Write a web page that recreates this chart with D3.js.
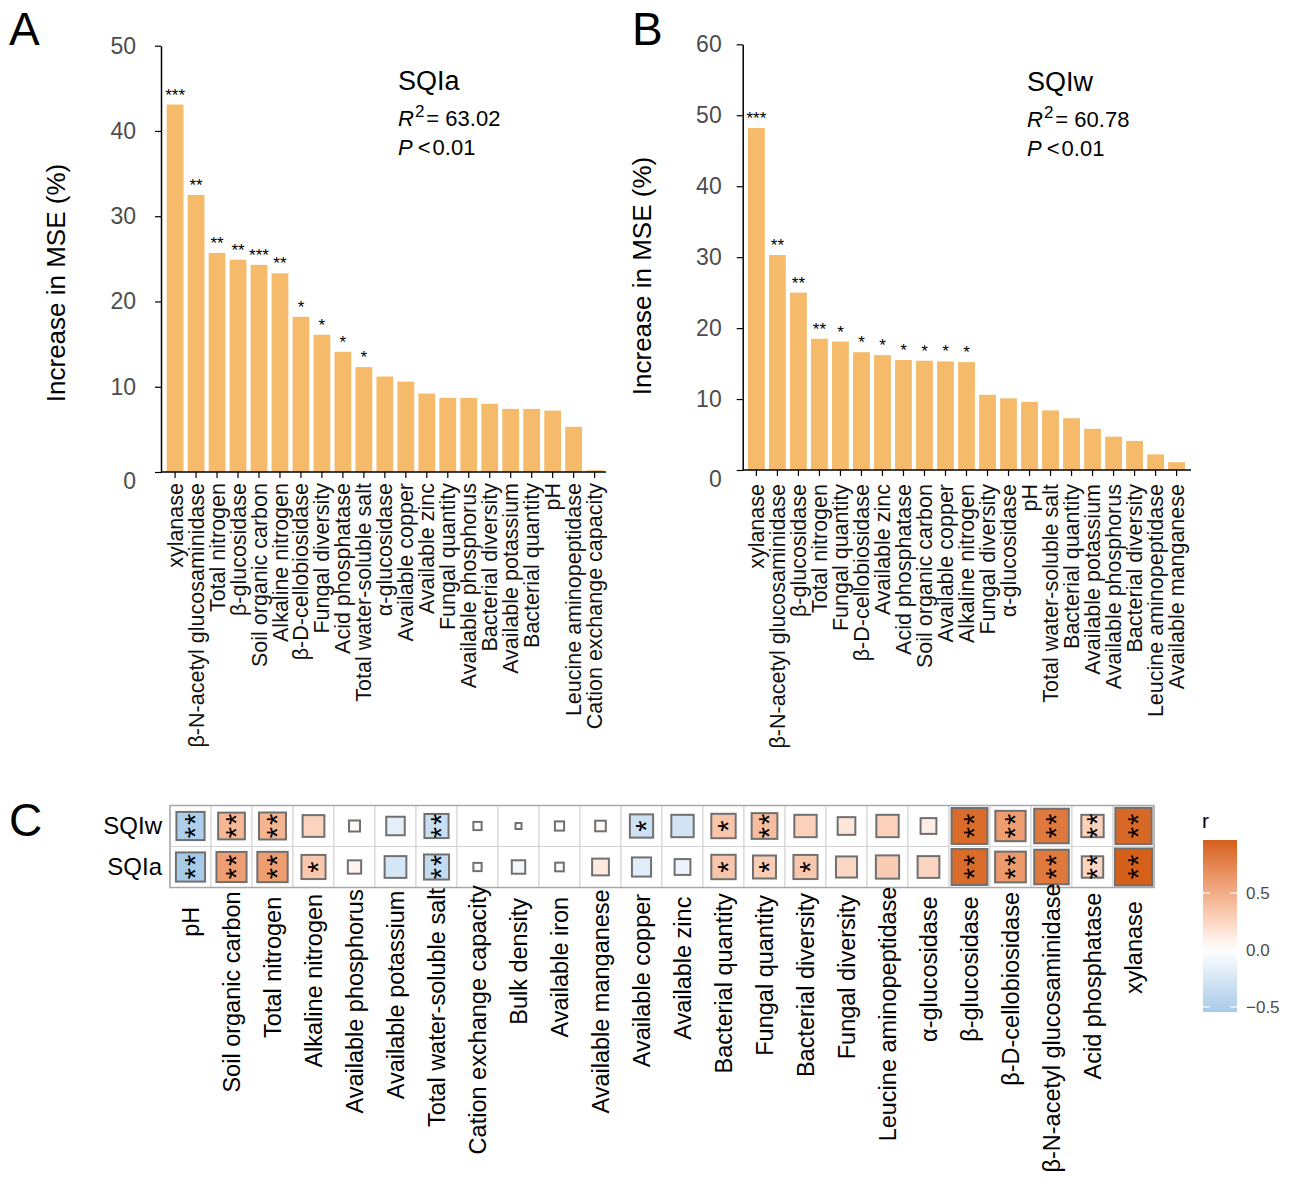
<!DOCTYPE html>
<html>
<head>
<meta charset="utf-8">
<script src="https://cdn.jsdelivr.net/npm/d3@7"></script>
<style>
  body { margin: 0; background: #fff; }
  svg { font-family: "Liberation Sans", Arial, sans-serif; }
</style>
</head>
<body>
<svg id="chart" width="1291" height="1188"></svg>
<script>
// Panel A: SQIa random forest importance
const catsA = ["xylanase", "β-N-acetyl glucosaminidase", "Total nitrogen", "β-glucosidase",
  "Soil organic carbon", "Alkaline nitrogen", "β-D-cellobiosidase", "Fungal diversity",
  "Acid phosphatase", "Total water-soluble salt", "α-glucosidase", "Available copper",
  "Available zinc", "Fungal quantity", "Available phosphorus", "Bacterial diversity",
  "Available potassium", "Bacterial quantity", "pH", "Leucine aminopeptidase",
  "Cation exchange capacity"];
const valuesA = [43.1, 32.5, 25.7, 24.9, 24.3, 23.3, 18.2, 16.1, 14.1, 12.3, 11.2, 10.6,
  9.2, 8.7, 8.7, 8.0, 7.4, 7.4, 7.2, 5.3, 0.2];
const sigA = ["***", "**", "**", "**", "***", "**", "*", "*", "*", "*", "", "", "", "", "", "", "", "", "", "", ""];

// Panel B: SQIw random forest importance
const catsB = ["xylanase", "β-N-acetyl glucosaminidase", "β-glucosidase", "Total nitrogen",
  "Fungal quantity", "β-D-cellobiosidase", "Available zinc", "Acid phosphatase",
  "Soil organic carbon", "Available copper", "Alkaline nitrogen", "Fungal diversity",
  "α-glucosidase", "pH", "Total water-soluble salt", "Bacterial quantity",
  "Available potassium", "Available phosphorus", "Bacterial diversity",
  "Leucine aminopeptidase", "Available manganese"];
const valuesB = [48.2, 30.3, 25.0, 18.5, 18.1, 16.6, 16.2, 15.5, 15.4, 15.3, 15.2, 10.6,
  10.1, 9.6, 8.4, 7.3, 5.8, 4.7, 4.1, 2.2, 1.1];
const sigB = ["***", "**", "**", "**", "*", "*", "*", "*", "*", "*", "*", "", "", "", "", "", "", "", "", "", ""];

// Panel C: correlation r with the two indices
const columns = ["pH", "Soil organic carbon", "Total nitrogen", "Alkaline nitrogen",
  "Available phosphorus", "Available potassium", "Total water-soluble salt",
  "Cation exchange capacity", "Bulk density", "Available iron", "Available manganese",
  "Available copper", "Available zinc", "Bacterial quantity", "Fungal quantity",
  "Bacterial diversity", "Fungal diversity", "Leucine aminopeptidase", "α-glucosidase",
  "β-glucosidase", "β-D-cellobiosidase", "β-N-acetyl glucosaminidase", "Acid phosphatase",
  "xylanase"];
const rows = ["SQIw", "SQIa"];
const rSQIw = [-0.50, 0.44, 0.45, 0.26, 0.04, -0.17, -0.34, 0.02, 0.015, 0.025, 0.036, -0.31,
  -0.28, 0.35, 0.40, 0.28, 0.15, 0.28, 0.11, 0.90, 0.60, 0.82, 0.28, 0.92];
const rSQIa = [-0.544, 0.59, 0.60, 0.34, 0.068, -0.26, -0.375, 0.02, -0.07, 0.022, 0.13, -0.186,
  -0.11, 0.35, 0.30, 0.34, 0.24, 0.31, 0.26, 0.90, 0.62, 0.82, 0.25, 0.965];
const sigSQIw = ["**", "**", "**", "", "", "", "**", "", "", "", "", "*", "", "*", "**", "", "", "", "", "**", "**", "**", "**", "**"];
const sigSQIa = ["**", "**", "**", "*", "", "", "**", "", "", "", "", "", "", "*", "*", "*", "", "", "", "**", "**", "**", "**", "**"];
const legendTicks = [-0.5, 0.0, 0.5];

const svg = d3.select("#chart");
const barColor = "#f5bb6b";

function drawBars(cfg) {
    const y = d3.scaleLinear().domain([0, cfg.yMax]).range([cfg.y0, cfg.yTop]);
    const x = d3.scaleBand().domain(cfg.cats).range([cfg.xl, cfg.xr])
        .paddingInner(0.2).paddingOuter(0);
    const g = svg.append("g");

    g.selectAll("rect.bar")
        .data(cfg.values)
        .join("rect")
        .attr("class", "bar")
        .attr("x", (d, i) => x(cfg.cats[i]))
        .attr("width", x.bandwidth())
        .attr("y", d => y(d))
        .attr("height", d => y(0) - y(d))
        .attr("fill", barColor);

    g.selectAll("text.sig")
        .data(cfg.values)
        .join("text")
        .attr("class", "sig")
        .attr("x", (d, i) => x(cfg.cats[i]) + x.bandwidth() / 2)
        .attr("y", d => y(d) - 4)
        .attr("text-anchor", "middle")
        .attr("font-size", 17)
        .text((d, i) => cfg.sig[i]);

    // y axis
    const yAxis = g.append("g")
        .attr("transform", `translate(${cfg.axisX},0)`)
        .call(d3.axisLeft(y).ticks(cfg.yMax / 10).tickSize(6).tickSizeOuter(0).tickPadding(cfg.tickPad));
    yAxis.select(".domain").attr("stroke", "#000").attr("stroke-width", 1.5);
    yAxis.selectAll(".tick line").attr("stroke", "#000").attr("stroke-width", 1.2);
    yAxis.selectAll(".tick text").attr("font-size", 23).attr("fill", "#4d4d4d")
        .attr("font-family", null)
        .attr("dy", d => d === 0 ? "0.7em" : "0.32em");

    // x axis
    const xAxis = g.append("g")
        .attr("transform", `translate(0,${cfg.y0})`)
        .call(d3.axisBottom(x).tickSize(6).tickSizeOuter(0));
    xAxis.select(".domain").remove();
    xAxis.append("line")
        .attr("x1", cfg.axisX).attr("x2", cfg.xEnd)
        .attr("stroke", "#000").attr("stroke-width", 1.5);
    xAxis.selectAll(".tick line").attr("stroke", "#000").attr("stroke-width", 1.2);
    xAxis.selectAll(".tick text")
        .attr("transform", "rotate(-90)")
        .attr("text-anchor", "end")
        .attr("x", -cfg.labelGap)
        .attr("y", 0)
        .attr("dy", "0.35em")
        .attr("font-size", 21.5)
        .attr("font-family", null)
        .attr("fill", "#111");

    // y title
    svg.append("text")
        .attr("transform", `translate(${cfg.titleX},${cfg.titleY}) rotate(-90)`)
        .attr("text-anchor", "middle")
        .attr("dy", "0.35em")
        .attr("font-size", 26)
        .text("Increase in MSE (%)");

    // annotation
    svg.append("text").attr("x", cfg.annX).attr("y", cfg.annY)
        .attr("font-size", 27).text(cfg.name);
    const r2 = svg.append("text").attr("x", cfg.annX).attr("y", cfg.annY + 36).attr("font-size", 22);
    r2.append("tspan").attr("font-style", "italic").text("R");
    r2.append("tspan").attr("font-size", 17).attr("dy", -9).attr("dx", 1).text("2");
    r2.append("tspan").attr("dy", 9).attr("dx", 2).text("= " + cfg.r2);
    const p = svg.append("text").attr("x", cfg.annX).attr("y", cfg.annY + 65).attr("font-size", 22);
    p.append("tspan").attr("font-style", "italic").text("P");
    p.append("tspan").attr("dx", 5).text("<");
    p.append("tspan").attr("dx", 2).text("0.01");

    // panel letter
    svg.append("text").attr("x", cfg.letterX).attr("y", 45)
        .attr("font-size", 46).text(cfg.letter);
}

drawBars({
    cats: catsA, values: valuesA, sig: sigA, yMax: 50,
    y0: 472, yTop: 45.7, xl: 166.7, xr: 603, axisX: 161, xEnd: 606,
    tickPad: 19, labelGap: 11, titleX: 56, titleY: 283,
    name: "SQIa", r2: "63.02", annX: 398, annY: 90, letter: "A", letterX: 9
});

drawBars({
    cats: catsB, values: valuesB, sig: sigB, yMax: 60,
    y0: 470, yTop: 44.3, xl: 748, xr: 1185, axisX: 742.7, xEnd: 1191,
    tickPad: 15, labelGap: 14, titleX: 642, titleY: 276,
    name: "SQIw", r2: "60.78", annX: 1027, annY: 91, letter: "B", letterX: 632
});

// ---------- Panel C: correlation heatmap ----------
const cells = [];
rows.forEach(row => {
    const rv = row === "SQIw" ? rSQIw : rSQIa;
    const sv = row === "SQIw" ? sigSQIw : sigSQIa;
    columns.forEach((col, i) => cells.push({ row: row, col: col, r: rv[i], sig: sv[i] }));
});

const hx = d3.scaleBand().domain(columns).range([170, 1154]);
const hy = d3.scaleBand().domain(rows).range([805.5, 887.5]);
const rExtent = d3.extent(cells, d => d.r);
const color = d3.scaleLinear()
    .domain([rExtent[0], 0, rExtent[1]])
    .range(["#a6cbe9", "#ffffff", "#d4601a"])
    .interpolate(d3.interpolateLab);
const absExtent = d3.extent(cells, d => Math.abs(d.r));
const absNorm = d3.scaleLinear().domain(absExtent).range([0, 1]);
const side = d3.scaleSqrt().domain([0, 1]).range([6, 37]);

const hm = svg.append("g");
hm.selectAll("rect.cell")
    .data(cells)
    .join("rect")
    .attr("class", "cell")
    .attr("x", d => hx(d.col))
    .attr("y", d => hy(d.row))
    .attr("width", hx.bandwidth())
    .attr("height", hy.bandwidth())
    .attr("fill", "#fff")
    .attr("stroke", "#d2d2d2")
    .attr("stroke-width", 1);

hm.append("rect")
    .attr("x", 170).attr("y", 805.5)
    .attr("width", 984).attr("height", 82)
    .attr("fill", "none").attr("stroke", "#a8a8a8").attr("stroke-width", 1.5);

hm.selectAll("rect.sq")
    .data(cells)
    .join("rect")
    .attr("class", "sq")
    .attr("x", d => hx(d.col) + hx.bandwidth() / 2 - side(absNorm(Math.abs(d.r))) / 2)
    .attr("y", d => hy(d.row) + hy.bandwidth() / 2 - side(absNorm(Math.abs(d.r))) / 2)
    .attr("width", d => side(absNorm(Math.abs(d.r))))
    .attr("height", d => side(absNorm(Math.abs(d.r))))
    .attr("fill", d => color(d.r))
    .attr("stroke", "#707070")
    .attr("stroke-width", 2);

// significance stars, written sideways so "**" stacks vertically
hm.selectAll("text.star")
    .data(cells.filter(d => d.sig))
    .join("text")
    .attr("class", "star")
    .attr("transform", d => `translate(${hx(d.col) + hx.bandwidth() / 2},${hy(d.row) + hy.bandwidth() / 2}) rotate(-90)`)
    .attr("dy", "0.5em")
    .attr("x", d => d.sig.length > 1 ? 1 : 0)
    .attr("text-anchor", "middle")
    .attr("letter-spacing", d => d.sig.length > 1 ? 2 : 0)
    .attr("font-size", 29)
    .text(d => d.sig);

// row labels
hm.selectAll("text.rowlab")
    .data(rows)
    .join("text")
    .attr("class", "rowlab")
    .attr("x", 162)
    .attr("y", d => hy(d) + hy.bandwidth() / 2)
    .attr("dy", "0.35em")
    .attr("text-anchor", "end")
    .attr("font-size", 24)
    .text(d => d);

// column labels (rotated, partially right-justified like the original)
hm.selectAll("text.collab")
    .data(columns)
    .join("text")
    .attr("class", "collab")
    .attr("transform", d => `translate(${hx(d) + hx.bandwidth() / 2},909.5) rotate(-90)`)
    .attr("dy", "0.35em")
    .attr("font-size", 23.5)
    .text(d => d)
    .each(function() {
        const len = this.getComputedTextLength();
        d3.select(this).attr("x", -0.91 * len);
    });

svg.append("text").attr("x", 9).attr("y", 836).attr("font-size", 46).text("C");

// legend colour bar
const ly = d3.scaleLinear().domain(rExtent).range([1012, 840]);
const defs = svg.append("defs");
const grad = defs.append("linearGradient")
    .attr("id", "rgrad").attr("x1", 0).attr("x2", 0).attr("y1", 1).attr("y2", 0);
d3.range(0, 1.0001, 0.05).forEach(t => {
    const v = rExtent[0] + t * (rExtent[1] - rExtent[0]);
    grad.append("stop").attr("offset", t).attr("stop-color", color(v));
});
const leg = svg.append("g");
leg.append("rect")
    .attr("x", 1203).attr("y", ly(rExtent[1]))
    .attr("width", 34).attr("height", ly(rExtent[0]) - ly(rExtent[1]))
    .attr("fill", "url(#rgrad)");
leg.selectAll("line.lt1")
    .data(legendTicks)
    .join("line")
    .attr("class", "lt1")
    .attr("x1", 1203).attr("x2", 1210)
    .attr("y1", d => ly(d)).attr("y2", d => ly(d))
    .attr("stroke", "#fff").attr("stroke-width", 1.2);
leg.selectAll("line.lt2")
    .data(legendTicks)
    .join("line")
    .attr("class", "lt2")
    .attr("x1", 1230).attr("x2", 1237)
    .attr("y1", d => ly(d)).attr("y2", d => ly(d))
    .attr("stroke", "#fff").attr("stroke-width", 1.2);
leg.selectAll("text.ll")
    .data(legendTicks)
    .join("text")
    .attr("class", "ll")
    .attr("x", 1246)
    .attr("y", d => ly(d))
    .attr("dy", "0.35em")
    .attr("font-size", 17)
    .attr("fill", "#4d4d4d")
    .text(d => d3.format(".1f")(d).replace("-", "−"));
leg.append("text").attr("x", 1202).attr("y", 828).attr("font-size", 21).text("r");
</script>
</body>
</html>
